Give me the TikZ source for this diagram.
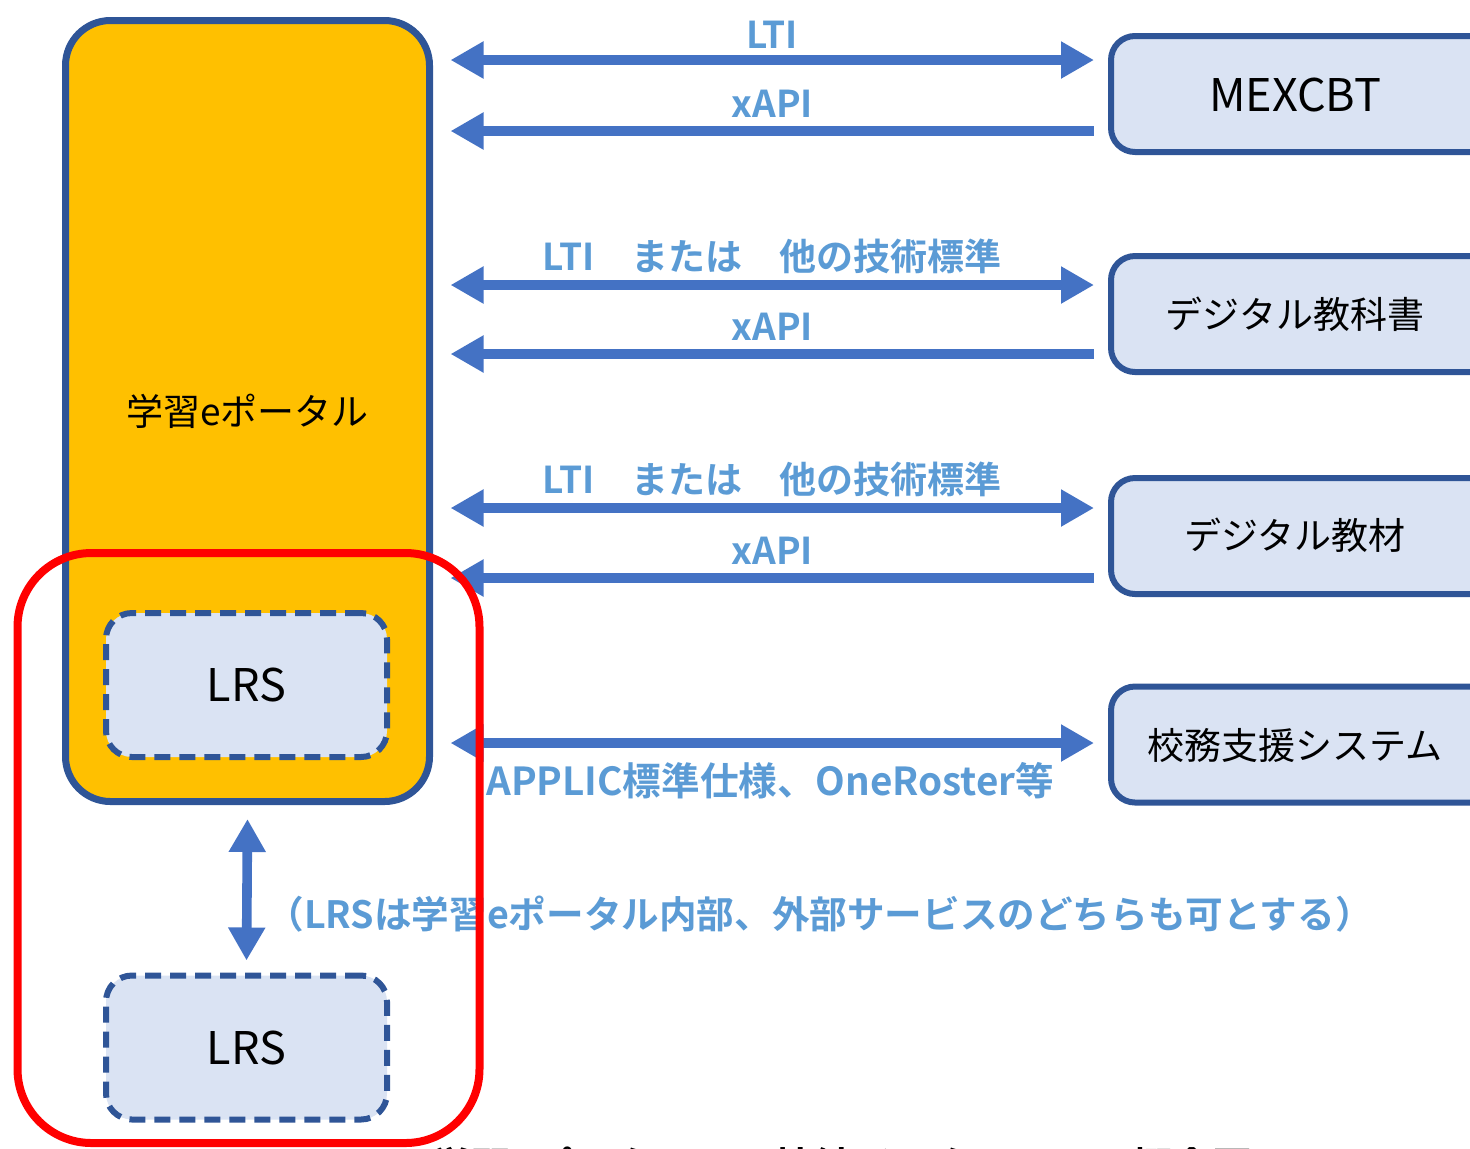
\documentclass[tikz,border=0pt]{standalone}
\usepackage{fontspec}
\newfontfamily\jpfont{Noto Sans CJK JP}[BoldFont={Noto Sans CJK JP Bold}]
\usetikzlibrary{arrows.meta,calc}

\definecolor{portalfill}{HTML}{FFC000}
\definecolor{edgeblue}{HTML}{2F5597}
\definecolor{boxfill}{HTML}{DAE3F3}
\definecolor{linkblue}{HTML}{4472C4}
\definecolor{labelblue}{HTML}{5B9BD5}
\definecolor{markred}{HTML}{FF0000}

\begin{document}
\begin{tikzpicture}[x=0.5pt,y=-0.5pt,
  boxtext/.style={font=\jpfont\fontsize{18.5pt}{22pt}\selectfont, text=black},
  bigtext/.style={font=\jpfont\fontsize{22.5pt}{26pt}\selectfont, text=black},
  portalbox/.style={draw=edgeblue, line width=3.5pt, fill=portalfill,
    rounded corners=22.5pt, minimum width=182pt, minimum height=390.5pt,
    inner sep=0pt, boxtext},
  sysbox/.style={draw=edgeblue, line width=3pt, fill=boxfill,
    rounded corners=12pt, minimum width=204.5pt, minimum height=58pt, inner sep=0pt},
  lrsbox/.style={draw=edgeblue, line width=3pt, fill=boxfill, dash pattern=on 8pt off 4.5pt,
    rounded corners=13pt, minimum width=140.5pt, minimum height=72pt, inner sep=0pt, bigtext},
  tip/.tip={Triangle[length=16.5pt,width=17.5pt]},
  biarrow/.style={draw=linkblue, line width=4.8pt, tip-tip},
  backarrow/.style={draw=linkblue, line width=4.8pt, tip-},
  arrowlab/.style={font=\jpfont\bfseries\fontsize{18.5pt}{22pt}\selectfont, text=labelblue, inner sep=0pt},
  redframe/.style={draw=markred, line width=4pt, rounded corners=37pt},
  caption/.style={font=\jpfont\bfseries\fontsize{20pt}{24pt}\selectfont, text=black, inner sep=0pt}
]
\useasboundingbox (0,0) rectangle (1470,1148);
\clip (0,0) rectangle (1470,1148);

% portal and its LRS
\node[portalbox] (portal) at (247.5,411) {学習eポータル};
\node[lrsbox] (lrsin) at (246.5,685) {LRS};

% external systems (right edges run off the page)
\node[sysbox] (mex) at (1315.5,94) {};
\node[bigtext] (mexlab) at (1295,95) {MEXCBT};
\node[sysbox] (text) at (1315.5,314) {};
\node[boxtext] (textlab) at (1295,314) {デジタル教科書};
\node[sysbox] (mat) at (1315.5,536) {};
\node[boxtext] (matlab) at (1295,535) {デジタル教材};
\node[sysbox] (sch) at (1315.5,744.5) {};
\node[boxtext] (schlab) at (1295,745) {校務支援システム};

% connections
\draw[biarrow] ($(portal.east |- mex.center)+(17.5,-34)$) -- ($(mex.west)+(-14,-34)$)
  node[arrowlab, midway, anchor=base, yshift=6pt] (l1) {LTI};
\draw[backarrow] ($(portal.east |- mex.center)+(17.5,37)$) -- ($(mex.west)+(-14,37)$)
  node[arrowlab, midway, anchor=base, yshift=7pt] (l2) {xAPI};

\draw[biarrow] ($(portal.east |- text.center)+(17.5,-29)$) -- ($(text.west)+(-14,-29)$)
  node[arrowlab, midway, anchor=base, yshift=7.5pt] (l3) {LTI　または　他の技術標準};
\draw[backarrow] ($(portal.east |- text.center)+(17.5,40)$) -- ($(text.west)+(-14,40)$)
  node[arrowlab, midway, anchor=base, yshift=7pt] (l4) {xAPI};

\draw[biarrow] ($(portal.east |- mat.center)+(17.5,-28)$) -- ($(mat.west)+(-14,-28)$)
  node[arrowlab, midway, anchor=base, yshift=7.5pt] (l5) {LTI　または　他の技術標準};
\draw[backarrow] ($(portal.east |- mat.center)+(17.5,42)$) -- ($(mat.west)+(-14,42)$)
  node[arrowlab, midway, anchor=base, yshift=7pt] (l6) {xAPI};

\draw[biarrow] ($(portal.east |- sch.center)+(17.5,-1.5)$) -- ($(sch.west)+(-14,-1.5)$)
  node[arrowlab, midway, anchor=base, yshift=-26pt, xshift=-1pt,
       font=\jpfont\bfseries\fontsize{19.3pt}{23pt}\selectfont] (l7) {APPLIC標準仕様、OneRoster等};

% external LRS
\node[lrsbox] (lrsout) at (246.5,1047.5) {LRS};
\draw[biarrow] ($(portal.south)+(0,14)$) -- ($(lrsout.north)+(0,-12)$);
\node[arrowlab, anchor=base west, font=\jpfont\bfseries\fontsize{18.8pt}{22pt}\selectfont]
  (note) at (266,928) {（LRSは学習eポータル内部、外部サービスのどちらも可とする）};

% figure caption, cut by the page edge
\node[caption, anchor=base west] (cap) at (431,1181) {学習eポータルとの接続インタフェース概念図};

% highlight frame
\draw[redframe] (17.5,553) rectangle (479.5,1143);
\end{tikzpicture}
\end{document}
